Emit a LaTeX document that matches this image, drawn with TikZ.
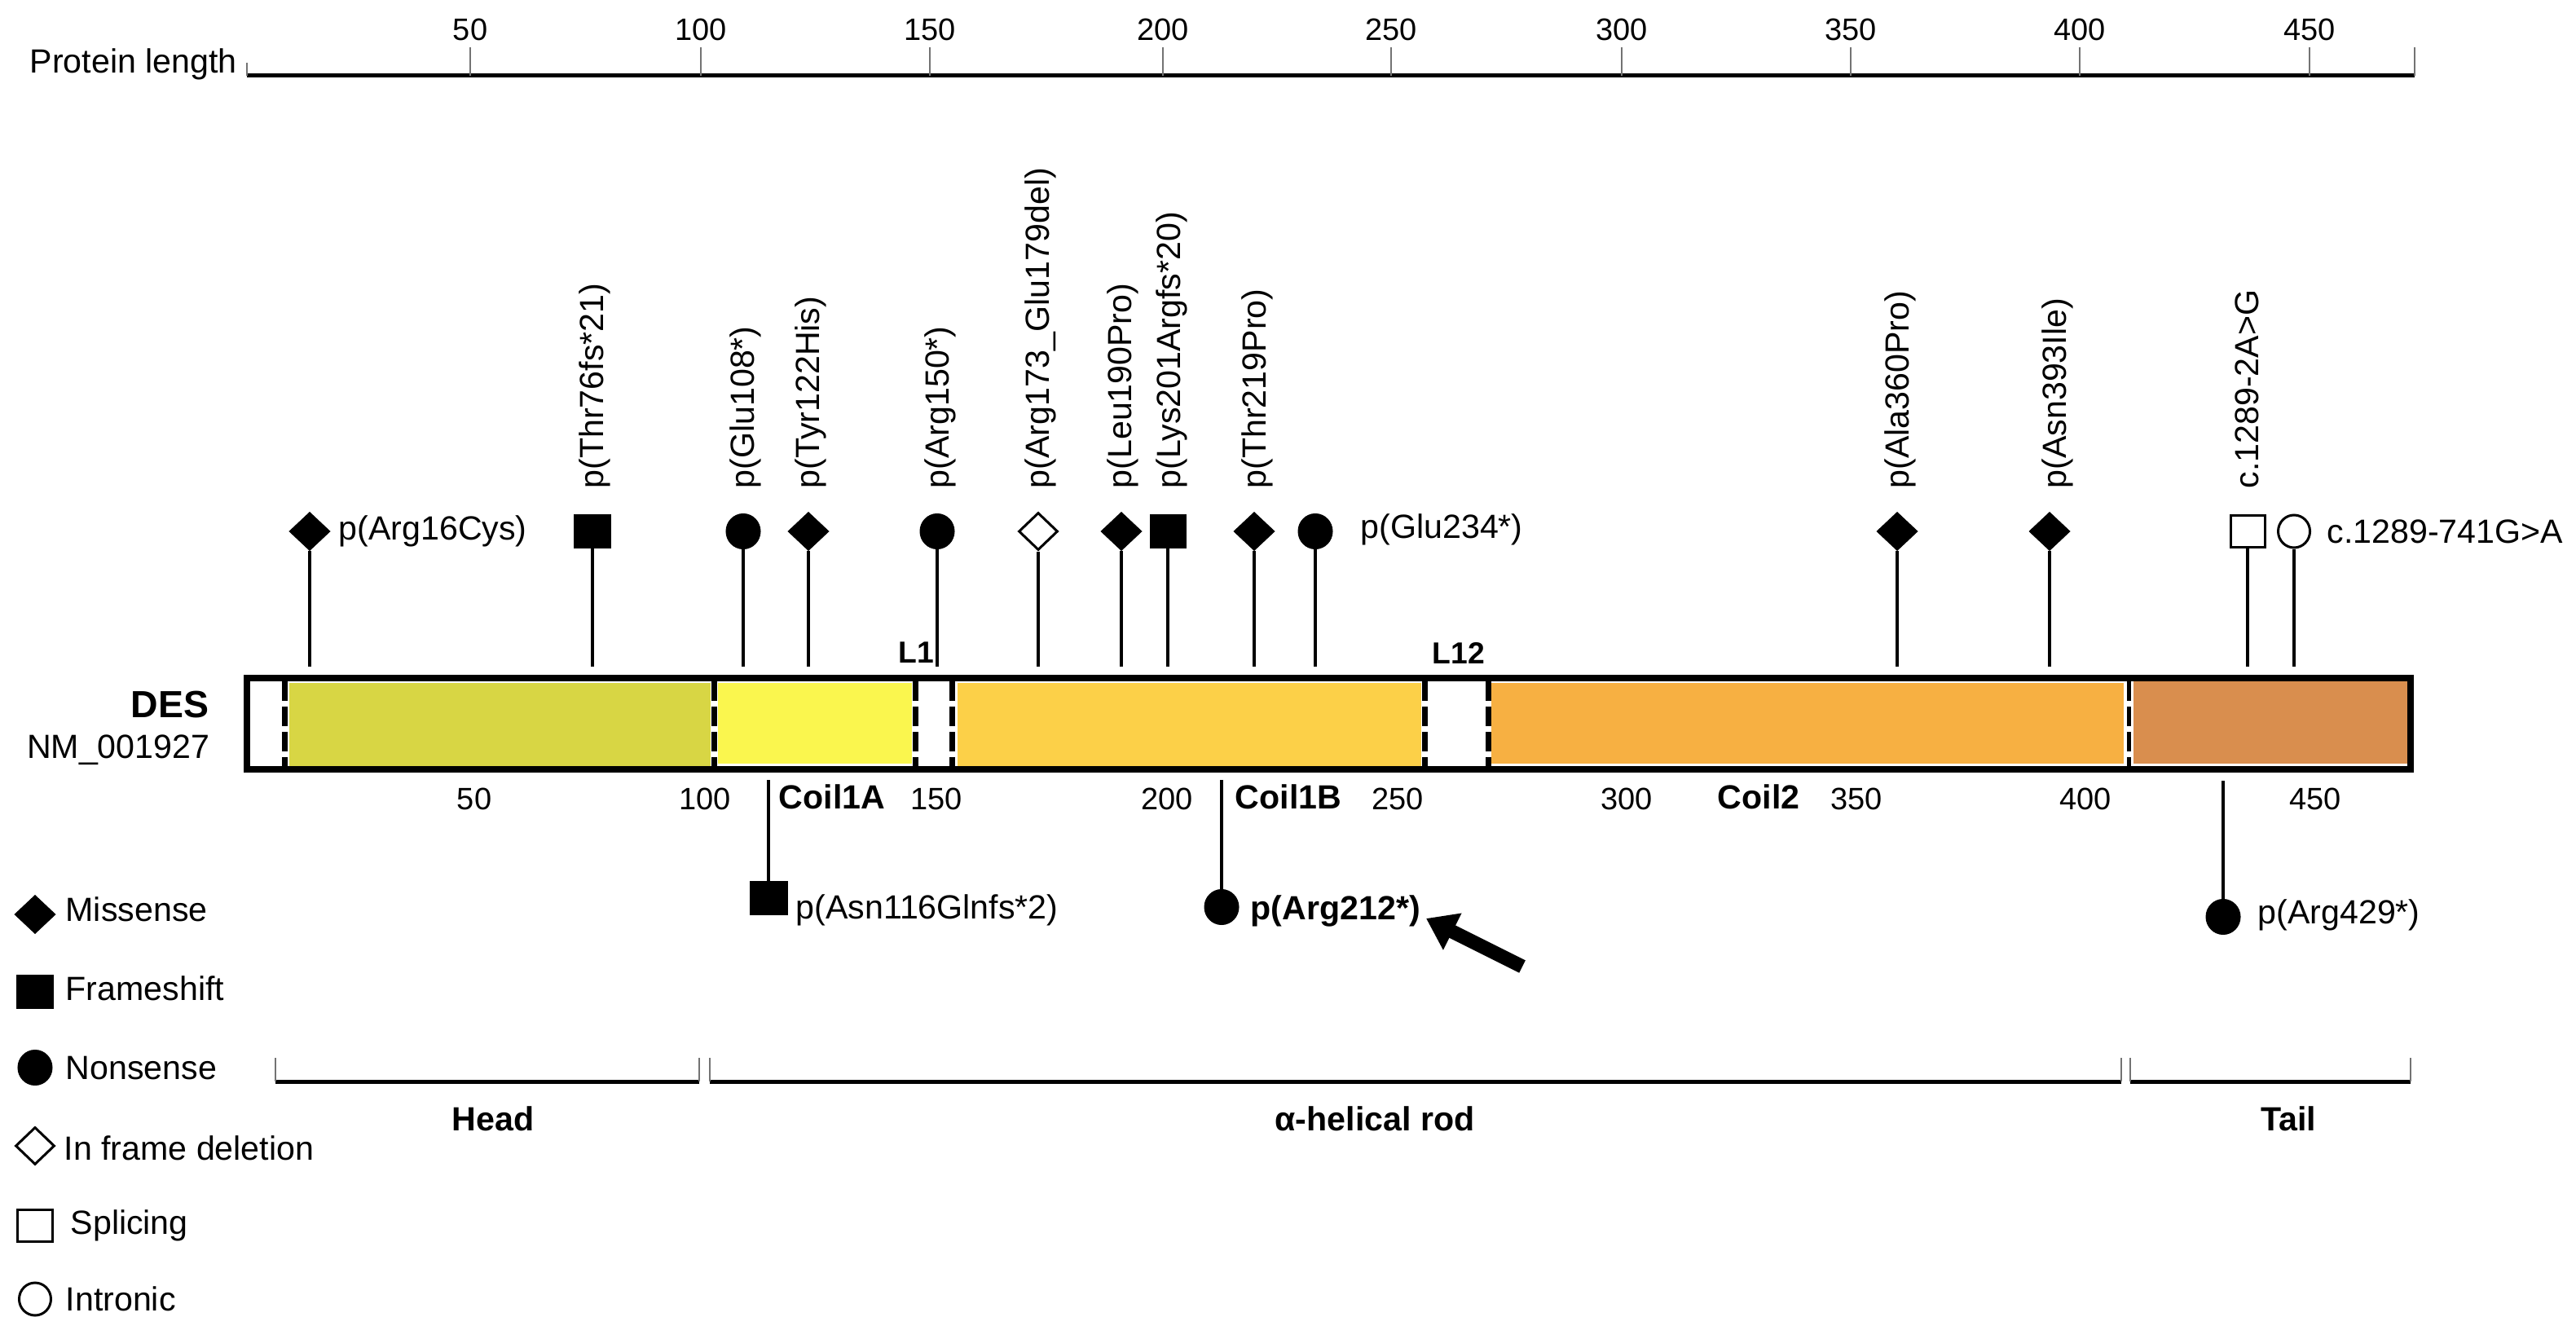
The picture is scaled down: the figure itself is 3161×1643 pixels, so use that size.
\documentclass[tikz,border=0pt]{standalone}
\usepackage{fontspec}
\setmainfont{Liberation Sans}
\usetikzlibrary{shapes.geometric, arrows.meta}
\definecolor{headc}{RGB}{216,214,68}
\definecolor{coilac}{RGB}{250,246,78}
\definecolor{coilbc}{RGB}{252,208,72}
\definecolor{coiltc}{RGB}{247,176,66}
\definecolor{tailc}{RGB}{217,142,78}
\tikzset{
  txt/.style={font=\fontsize{11.7}{14}\selectfont, inner sep=0pt},
  bt/.style={font=\bfseries\fontsize{11.7}{14}\selectfont, inner sep=0pt},
  num/.style={font=\fontsize{10.8}{13}\selectfont, inner sep=0pt},
  rot/.style={txt, rotate=90, anchor=west},
  mis/.style={diamond, fill=black, draw=black, line width=0.01cm, minimum width=0.50cm, minimum height=0.47cm, inner sep=0pt},
  ifd/.style={diamond, fill=white, draw=black, line width=0.03cm, minimum width=0.48cm, minimum height=0.46cm, inner sep=0pt},
  fsh/.style={rectangle, fill=black, draw=black, line width=0.01cm, minimum width=0.44cm, minimum height=0.41cm, inner sep=0pt},
  spl/.style={rectangle, fill=white, draw=black, line width=0.03cm, minimum width=0.42cm, minimum height=0.39cm, inner sep=0pt},
  non/.style={ellipse, fill=black, draw=black, line width=0.01cm, minimum width=0.42cm, minimum height=0.43cm, inner sep=0pt},
  itr/.style={ellipse, fill=white, draw=black, line width=0.03cm, minimum width=0.39cm, minimum height=0.40cm, inner sep=0pt},
  stem/.style={line width=0.045cm},
  tck/.style={line width=0.02cm, black!55},
  dsh/.style={line width=0.07cm, dash pattern=on 0.24cm off 0.07cm},
}
\begin{document}
\begin{tikzpicture}[x=0.01cm, y=-0.01cm]
\fill[white] (0,0) rectangle (3161,1643);
\useasboundingbox (0,0) rectangle (3161,1643);

% ---- top axis
\draw[line width=0.05cm] (303,93) -- (2963,93);
\foreach \x/\l in {577/50, 860/100, 1141/150, 1427/200, 1707/250, 1990/300, 2271/350, 2552/400, 2834/450} {
  \draw[tck] (\x,58) -- (\x,93);
  \node[num] (top\l) at (\x,36) {\l};
}
\draw[tck] (303,77) -- (303,93);
\draw[tck] (2963,58) -- (2963,93);
\node[txt, anchor=west] (plen) at (36,79) {Protein length};

% ---- protein bar
\fill[headc] (355,838) rectangle (872,941);
\fill[coilac] (881,838) rectangle (1119,937);
\fill[coilbc] (1175,838) rectangle (1744,940);
\fill[coiltc] (1830,838) rectangle (2606,937);
\fill[tailc] (2618,836) rectangle (2955,937);
\foreach \x in {349,876,1123,1168,1748,1826} {
  \draw[dsh] (\x,836) -- (\x,944);
}
\draw[line width=0.05cm, dash pattern=on 0.24cm off 0.07cm] (2612,836) -- (2612,944);
\draw[line width=0.08cm] (303,832) rectangle (2958,944);
\node[font=\bfseries\fontsize{13.2}{16}\selectfont, inner sep=0pt, anchor=east] (des) at (257,865) {DES};
\node[txt, anchor=east] (nm) at (258,920) {NM\_001927};
\node[font=\bfseries\fontsize{10.6}{13}\selectfont, inner sep=0pt] (l1) at (1124,801) {L1};
\node[font=\bfseries\fontsize{10.6}{13}\selectfont, inner sep=0pt] (l12) at (1790,801) {L12};

% ---- numbers and domain names below bar
\foreach \x/\l in {582/50, 865/100, 1149/150, 1432/200, 1715/250, 1996/300, 2278/350, 2559/400, 2841/450} {
  \node[num] (bot\l) at (\x,980) {\l};
}
\node[bt, anchor=west] (c1a) at (955,978) {Coil1A};
\node[bt, anchor=west] (c1b) at (1515,978) {Coil1B};
\node[bt, anchor=west] (c2) at (2107,978) {Coil2};

% ---- mutations above the bar
\node[mis] (m16) at (380,652) {};
\coordinate (m16b) at (380,818);
\draw[stem] (m16.south) -- (m16b);
\node[txt, anchor=west] (t16) at (415,652) {p(Arg16Cys)};

\node[fsh] (m76) at (727,652) {};
\coordinate (m76b) at (727,818);
\draw[stem] (m76.south) -- (m76b);
\node[rot] (t76) at (730,600) {p(Thr76fs*21)};

\node[non] (m108) at (912,652) {};
\coordinate (m108b) at (912,818);
\draw[stem] (m108.south) -- (m108b);
\node[rot] (t108) at (915,600) {p(Glu108*)};

\node[mis] (m122) at (992,652) {};
\coordinate (m122b) at (992,818);
\draw[stem] (m122.south) -- (m122b);
\node[rot] (t122) at (995,600) {p(Tyr122His)};

\node[non] (m150) at (1150,652) {};
\coordinate (m150b) at (1150,818);
\draw[stem] (m150.south) -- (m150b);
\node[rot] (t150) at (1154,600) {p(Arg150*)};

\node[ifd] (m173) at (1274,652) {};
\coordinate (m173b) at (1274,818);
\draw[stem] (m173.south) -- (m173b);
\node[rot] (t173) at (1277,600) {p(Arg173\_Glu179del)};

\node[mis] (m190) at (1376,652) {};
\coordinate (m190b) at (1376,818);
\draw[stem] (m190.south) -- (m190b);
\node[rot] (t190) at (1378,600) {p(Leu190Pro)};

\node[fsh] (m201) at (1433,652) {};
\coordinate (m201b) at (1433,818);
\draw[stem] (m201.south) -- (m201b);
\node[rot] (t201) at (1438,600) {p(Lys201Argfs*20)};

\node[mis] (m219) at (1539,652) {};
\coordinate (m219b) at (1539,818);
\draw[stem] (m219.south) -- (m219b);
\node[rot] (t219) at (1543,600) {p(Thr219Pro)};

\node[non] (m234) at (1614,652) {};
\coordinate (m234b) at (1614,818);
\draw[stem] (m234.south) -- (m234b);
\node[txt, anchor=west] (t234) at (1669,650) {p(Glu234*)};

\node[mis] (m360) at (2328,652) {};
\coordinate (m360b) at (2328,818);
\draw[stem] (m360.south) -- (m360b);
\node[rot] (t360) at (2332,600) {p(Ala360Pro)};

\node[mis] (m393) at (2515,652) {};
\coordinate (m393b) at (2515,818);
\draw[stem] (m393.south) -- (m393b);
\node[rot] (t393) at (2525,600) {p(Asn393Ile)};

\node[spl] (m1289a) at (2758,652) {};
\coordinate (m1289ab) at (2758,818);
\draw[stem] (m1289a.south) -- (m1289ab);
\node[rot] (t1289a) at (2757,600) {c.1289-2A>G};

\node[itr] (m1289b) at (2815,652) {};
\coordinate (m1289bb) at (2815,818);
\draw[stem] (m1289b.south) -- (m1289bb);
\node[txt, anchor=west] (t1289b) at (2855,652) {c.1289-741G>A};

% ---- mutations below the bar
\coordinate (b116) at (943,957);
\node[fsh, minimum width=0.46cm] (m116) at (943,1102) {};
\draw[stem] (b116) -- (m116.north);
\node[txt, anchor=west] (t116) at (976,1117) {p(Asn116Glnfs*2)};

\coordinate (b212) at (1499,957);
\node[non] (m212) at (1499,1113) {};
\draw[stem] (b212) -- (m212.north);
\node[bt, anchor=west] (t212) at (1534,1118) {p(Arg212*)};

\coordinate (b429) at (2728,958);
\node[non] (m429) at (2728,1125) {};
\draw[stem] (b429) -- (m429.north);
\node[txt, anchor=west] (t429) at (2770,1123) {p(Arg429*)};

\coordinate (atail) at (1868,1186);
\coordinate (atip) at (1750,1127);
\draw[line width=0.17cm, -{Triangle[length=0.36cm, width=0.48cm]}] (atail) -- (atip);

% ---- domain brackets
\draw[line width=0.05cm] (338,1327) -- (858,1327);
\draw[line width=0.05cm] (871,1327) -- (2603,1327);
\draw[line width=0.05cm] (2614,1327) -- (2958,1327);
\foreach \x in {338,858,871,2603,2614,2958} {
  \draw[tck] (\x,1298) -- (\x,1327);
}
\node[bt] (head) at (605,1373) {Head};
\node[bt] (rod) at (1687,1373) {α-helical rod};
\node[bt] (tail) at (2808,1373) {Tail};

% ---- legend
\node[mis] (lg1) at (43,1122) {};
\node[txt, anchor=west] (lt1) at (80,1116) {Missense};
\node[fsh] (lg2) at (43,1217) {};
\node[txt, anchor=west] (lt2) at (80,1213) {Frameshift};
\node[non] (lg3) at (43,1310) {};
\node[txt, anchor=west] (lt3) at (80,1311) {Nonsense};
\node[ifd] (lg4) at (43,1406) {};
\node[txt, anchor=west] (lt4) at (78,1409) {In frame deletion};
\node[spl] (lg5) at (43,1504) {};
\node[txt, anchor=west] (lt5) at (86,1504) {Splicing};
\node[itr] (lg6) at (43,1594) {};
\node[txt, anchor=west] (lt6) at (80,1594) {Intronic};
\end{tikzpicture}
\end{document}
